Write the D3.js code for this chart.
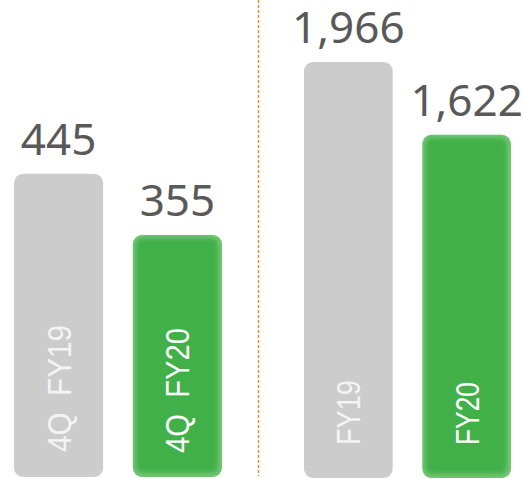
<!DOCTYPE html>
<html>
<head>
<meta charset="utf-8">
<script src="https://cdn.jsdelivr.net/npm/d3@7"></script>
<style>
  html, body { margin: 0; padding: 0; background: #fff; }
  svg { display: block; }
</style>
</head>
<body>
<div id="chart"></div>
<script>
////////////////////////////// DATA ////////////////////////////////////

const width = 524;
const height = 479;

// quarter panel (left) and full year panel (right)
const quarterLabels = ["4Q\u00a0\u00a0FY19", "4Q\u00a0\u00a0FY20"];
const quarterValues = [445, 355];
const yearLabels = ["FY19", "FY20"];
const yearValues = [1966, 1622];
const barColors = ["#cccccc", "#43b04a"];

////////////////////////////// SET UP ////////////////////////////////////

const svg = d3
  .select("#chart")
  .append("svg")
  .attr("width", width)
  .attr("height", height);

const defs = svg.append("defs");
defs
  .append("filter")
  .attr("id", "soft")
  .attr("x", "-10%")
  .attr("y", "-10%")
  .attr("width", "120%")
  .attr("height", "120%")
  .append("feGaussianBlur")
  .attr("stdDeviation", 2);

// each panel has its own scale
const panels = [
  {
    labels: quarterLabels,
    values: quarterValues,
    x: d3.scaleBand().domain(quarterLabels).range([14, 222]).paddingInner(0.25),
    y: d3.scaleLinear().domain([0, 700]).range([477, 0]),
    textLen: [127, 125],
    textBase: [452, 453],
  },
  {
    labels: yearLabels,
    values: yearValues,
    x: d3.scaleBand().domain(yearLabels).range([304, 511]).paddingInner(0.25),
    y: d3.scaleLinear().domain([0, 2259]).range([478, 0]),
    textLen: [65, 63],
    textBase: [445, 445],
  },
];

////////////////////////////// SEPARATOR ////////////////////////////////////

svg
  .append("line")
  .attr("x1", 258.5)
  .attr("x2", 258.5)
  .attr("y1", 0)
  .attr("y2", 476)
  .style("stroke", "#f08a2c")
  .style("stroke-width", 1.4)
  .style("stroke-dasharray", "3,2");

////////////////////////////// BARS ////////////////////////////////////

panels.forEach((p) => {
  const data = p.labels.map((label, i) => ({
    label: label,
    value: p.values[i],
    color: barColors[i],
    green: i === 1,
    textLen: p.textLen[i],
    textBase: p.textBase[i],
  }));

  const g = svg.append("g");

  const bars = g
    .selectAll(".bar")
    .data(data)
    .join("g")
    .attr("class", "bar");

  // outer rect (lighter rim on the green bar)
  bars
    .append("rect")
    .attr("x", (d) => p.x(d.label))
    .attr("y", (d) => p.y(d.value))
    .attr("width", p.x.bandwidth())
    .attr("height", (d) => p.y(0) - p.y(d.value))
    .attr("rx", 9)
    .style("fill", (d) => (d.green ? "#72c575" : d.color));

  // soft inner body for the green bar
  bars
    .filter((d) => d.green)
    .append("rect")
    .attr("x", (d) => p.x(d.label) + 3)
    .attr("y", (d) => p.y(d.value) + 3)
    .attr("width", p.x.bandwidth() - 7)
    .attr("height", (d) => p.y(0) - p.y(d.value) - 7)
    .attr("rx", 7)
    .attr("filter", "url(#soft)")
    .style("fill", (d) => d.color);

  // value labels above the bars
  bars
    .append("text")
    .attr("x", (d) => p.x(d.label) + p.x.bandwidth() / 2)
    .attr("y", (d) => p.y(d.value) - 19)
    .attr("text-anchor", "middle")
    .style("font-family", "'Noto Sans', 'Open Sans', sans-serif")
    .style("font-size", "44px")
    .style("fill", "#595959")
    .text((d) => d3.format(",")(d.value));

  // rotated category labels inside the bars
  bars
    .append("text")
    .attr(
      "transform",
      (d) =>
        `translate(${p.x(d.label) + p.x.bandwidth() / 2 + 12},${d.textBase}) rotate(-90)`
    )
    .attr("textLength", (d) => d.textLen)
    .attr("lengthAdjust", "spacingAndGlyphs")
    .style("font-family", "'Liberation Sans', Arial, sans-serif")
    .style("font-size", "34px")
    .style("fill", (d) => (d.green ? "#ffffff" : "#f4f4f4"))
    .text((d) => d.label);
});
</script>
</body>
</html>
